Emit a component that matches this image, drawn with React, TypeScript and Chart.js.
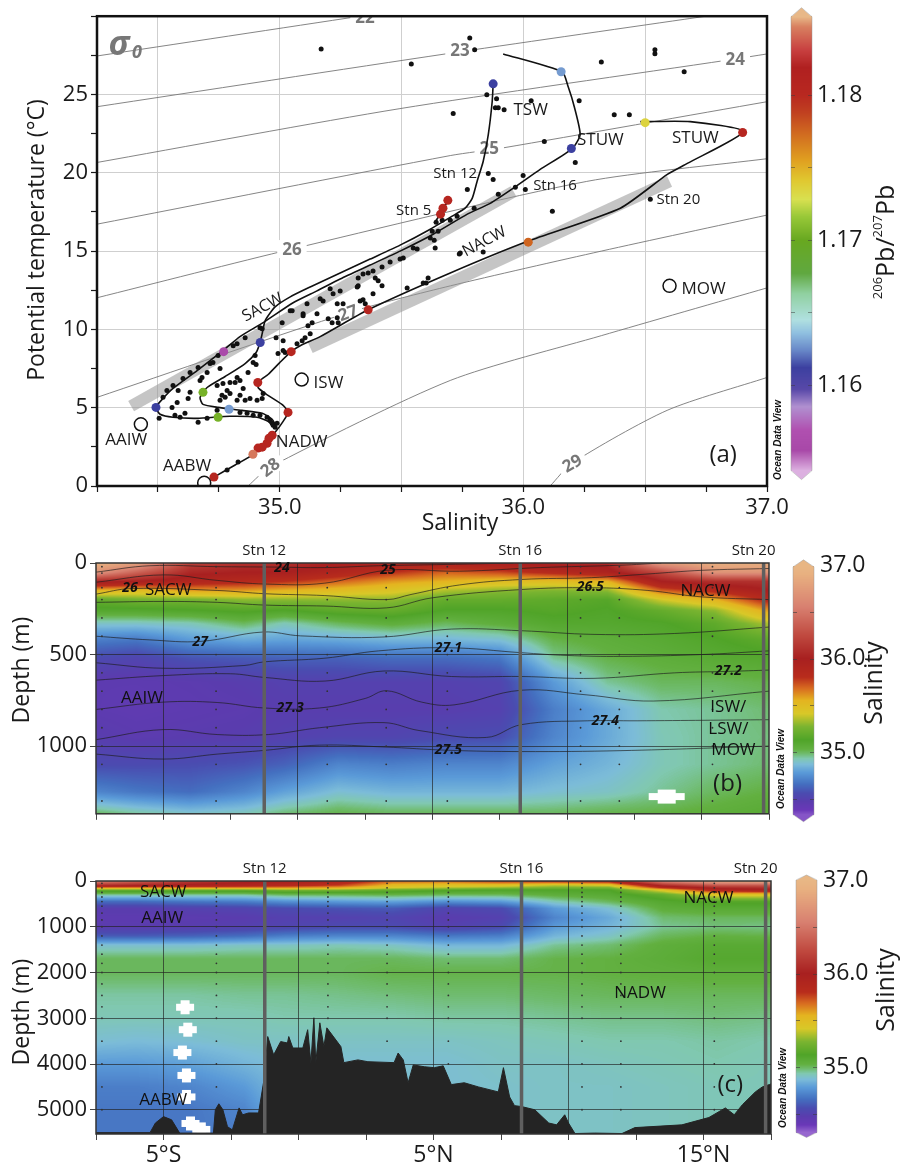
import React, { useEffect, useRef } from 'react';
import { Chart, registerables } from 'chart.js';

Chart.register(...registerables);

const FONT = '"Open Sans", "Noto Sans", "DejaVu Sans", sans-serif';
const ODV_FONT = '"Liberation Sans", "DejaVu Sans", sans-serif';
const INK = '#1a1a1a';

// ================= Panel (a): potential temperature vs salinity =================
const sigmaNames = ['22', '23', '24', '25', '26', '27', '28', '29'];
const sigma22 = [[34.25, 27.46], [35.33, 30.0]];
const sigma23 = [[34.25, 24.22], [35.68, 27.59], [36.66, 29.8], [36.75, 30.0]];
const sigma24 = [[34.25, 20.66], [35.49, 24.09], [36.84, 27.2], [37.0, 27.59]];
const sigma25 = [[34.25, 16.72], [35.7, 21.1], [35.92, 21.6], [37.0, 24.54]];
const sigma26 = [[34.25, 12.02], [35.05, 15.13], [36.26, 19.45], [37.0, 20.9]];
const sigma27 = [[34.25, 5.66], [35.28, 11.06], [35.7, 12.78], [36.32, 15.0], [37.0, 17.3]];
const sigma28 = [[34.87, 0.0], [34.96, 1.21], [35.7, 6.74], [36.32, 9.6], [37.0, 12.65]];
const sigma29 = [[36.11, 0.0], [36.2, 1.46], [36.59, 4.83], [37.0, 6.93]];
const sigmaLines = [sigma22, sigma23, sigma24, sigma25, sigma26, sigma27, sigma28, sigma29];
const sigmaLabelAt = [[35.35, 29.95], [35.74, 27.84], [36.87, 27.27], [35.86, 21.55], [35.05, 15.13], [35.28, 11.06], [34.96, 1.21], [36.2, 1.46]];
const sigmaLabelTilt = [0, 0, 0, 0, 0, -20, -38, -30];

const sacwBand = [[34.39, 5.1], [35.96, 18.8]];
const nacwBand = [[35.125, 8.84], [36.6, 19.45]];

const stn16Profile = [
  [35.917, 27.59], [36.159, 26.45], [36.184, 25.49], [36.209, 24.22], [36.233, 22.44], [36.201, 21.55],
  [36.069, 20.22], [35.958, 19.01], [35.864, 18.05], [35.77, 17.36], [35.63, 16.08], [35.494, 15.0],
  [35.371, 14.11], [35.248, 13.22], [35.153, 12.46], [35.055, 11.7], [34.932, 10.43], [34.837, 9.54],
  [34.772, 8.71], [34.661, 7.37], [34.562, 6.23], [34.521, 5.59], [34.492, 5.02], [34.509, 4.58],
  [34.562, 4.39], [34.661, 4.32], [34.796, 4.45], [34.907, 4.39], [34.952, 4.13], [34.981, 3.69],
];
const stn12Profile = [
  [35.876, 25.68], [35.872, 24.54], [35.856, 22.44], [35.835, 20.72], [35.81, 19.45], [35.79, 18.37],
  [35.761, 17.74], [35.708, 17.23], [35.618, 16.4], [35.494, 15.38], [35.371, 14.49], [35.248, 13.6],
  [35.125, 12.71], [35.043, 12.08], [34.981, 11.44], [34.94, 10.55], [34.928, 9.73], [34.919, 9.15],
  [34.903, 8.52], [34.858, 7.82], [34.776, 6.99], [34.702, 6.29], [34.673, 5.66], [34.685, 5.21],
  [34.747, 5.02], [34.845, 4.83], [34.928, 4.64], [34.969, 4.26], [34.985, 3.81],
];
const stn20Profile = [
  [36.48, 23.27], [36.685, 23.27], [36.903, 22.63], [36.673, 20.6], [36.591, 19.9], [36.398, 17.74],
  [36.02, 15.64], [35.7, 13.6], [35.363, 11.25], [35.166, 9.54], [35.084, 8.96], [35.047, 8.58],
  [35.0, 7.88], [34.952, 7.12], [34.919, 6.74], [34.911, 6.29], [34.952, 5.79], [35.014, 5.15],
  [35.034, 4.7], [35.014, 4.13], [34.981, 3.43], [34.94, 2.73], [34.887, 1.97], [34.817, 1.34], [34.73, 0.57],
];
const stn5Profile = [[35.691, 18.24], [35.659, 17.36], [35.634, 16.78]];

const blackDots = [
  [35.17, 27.9], [35.54, 26.95], [35.78, 28.6], [35.8, 27.85], [36.32, 27.08], [36.54, 27.85], [36.54, 27.6],
  [36.66, 26.45], [35.85, 24.98], [35.89, 24.73], [35.885, 24.16], [35.897, 24.16], [35.921, 24.03],
  [35.712, 23.78], [36.032, 24.6], [36.229, 24.6], [36.373, 23.71], [36.435, 23.71], [36.086, 22.0],
  [36.213, 20.66], [35.856, 19.96], [35.876, 19.58], [35.999, 19.83], [35.77, 18.94], [35.897, 18.63],
  [35.967, 19.07], [36.008, 18.94], [36.119, 17.55], [36.521, 18.31], [35.798, 17.74], [35.741, 14.88],
  [35.835, 14.94], [35.638, 15.19], [35.523, 12.65], [35.609, 13.29], [35.601, 12.97], [35.728, 17.23],
  [35.7, 16.97], [35.667, 16.97], [35.642, 16.85], [35.626, 16.27], [35.65, 16.27], [35.618, 15.83],
  [35.634, 15.7], [35.737, 14.81], [35.548, 15.19], [35.564, 15.13], [35.507, 14.56], [35.494, 14.49],
  [35.453, 14.3], [35.42, 13.99], [35.383, 13.73], [35.363, 13.6], [35.342, 13.54], [35.322, 13.29],
  [35.322, 12.78], [35.392, 13.29], [35.404, 13.1], [35.42, 12.78], [35.383, 12.27], [35.318, 12.71],
  [35.248, 12.46], [35.207, 12.59], [35.219, 12.27], [35.178, 11.82], [35.166, 11.95], [35.112, 11.63],
  [35.043, 11.19], [35.096, 11.0], [35.153, 11.0], [35.236, 11.63], [35.26, 11.63], [35.33, 11.82],
  [35.351, 11.63], [35.342, 11.89], [35.589, 12.97], [35.199, 10.68], [35.215, 10.43], [35.236, 10.74],
  [35.24, 10.43], [35.116, 10.24], [34.919, 10.11], [35.01, 10.43], [35.051, 11.19], [35.096, 10.87],
  [35.133, 10.43], [35.125, 9.73], [35.104, 9.47], [35.092, 9.28], [35.071, 9.09], [35.014, 9.28],
  [35.022, 8.52], [34.993, 8.46], [35.014, 8.65], [34.985, 9.47], [34.928, 10.04], [34.858, 9.47],
  [34.825, 9.09], [34.809, 8.96], [34.747, 8.33], [34.726, 7.88], [34.714, 7.82], [34.665, 7.57],
  [34.632, 7.25], [34.603, 6.87], [34.562, 6.42], [34.537, 6.1], [34.521, 5.66], [34.583, 6.1],
  [34.632, 5.98], [34.624, 5.59], [34.579, 5.34], [34.558, 5.02], [34.673, 6.74], [34.681, 6.93],
  [34.755, 7.5], [34.702, 7.25], [34.899, 8.33], [34.891, 7.88], [34.903, 7.76], [34.825, 6.93],
  [34.837, 6.74], [34.817, 6.61], [34.796, 6.61], [34.87, 7.25], [34.767, 6.55], [34.743, 6.42],
  [34.763, 5.79], [34.776, 5.66], [34.784, 6.1], [34.796, 5.91], [34.755, 5.47], [34.837, 5.79],
  [34.85, 6.23], [34.858, 5.47], [34.825, 5.47], [34.878, 5.59], [34.907, 5.47], [34.928, 5.59],
  [34.932, 5.91], [34.743, 4.83], [34.837, 4.7], [34.57, 4.51], [34.591, 4.39], [34.611, 4.64],
  [34.665, 4.07], [34.702, 4.32], [34.505, 4.32], [34.866, 4.64], [34.891, 4.51], [34.919, 4.51],
  [34.948, 4.39], [34.96, 4.2], [34.969, 4.0], [34.973, 3.88], [34.989, 4.0], [34.981, 3.75],
  [34.829, 1.53], [34.784, 1.02],
];

// [salinity, temperature, 206Pb/207Pb]
const pbDots = [
  [35.876, 25.68, 1.1612], [36.155, 26.45, 1.1628], [36.197, 21.55, 1.1612], [36.5, 23.2, 1.1735],
  [36.9, 22.57, 1.1805], [36.02, 15.57, 1.1775], [35.69, 18.24, 1.1805], [35.67, 17.74, 1.1805],
  [35.66, 17.36, 1.1805], [35.363, 11.25, 1.1805], [34.92, 9.16, 1.1612], [34.77, 8.58, 1.1558],
  [35.047, 8.58, 1.1805], [34.91, 6.61, 1.1805], [34.685, 5.98, 1.1705], [34.492, 5.02, 1.1612],
  [34.792, 4.9, 1.1628], [34.747, 4.39, 1.1705], [35.034, 4.7, 1.1805], [34.969, 3.24, 1.1805],
  [34.948, 2.73, 1.1805], [34.928, 2.48, 1.1805], [34.911, 2.42, 1.1805], [34.956, 3.05, 1.1805],
  [34.89, 2.03, 1.1845], [34.73, 0.57, 1.1805],
];

const massCircles = [[34.43, 3.94], [35.09, 6.8], [34.69, 0.2], [36.6, 12.78]];

// [text, salinity, temperature]
const tsLabels = [
  ['TSW', 36.03, 24.0], ['STUW', 36.316, 22.06], ['STUW', 36.706, 22.19], ['ISW', 35.2, 6.55],
  ['AAIW', 34.37, 2.92], ['NADW', 35.09, 2.8], ['AABW', 34.62, 1.27], ['MOW', 36.74, 12.6],
];
const tsStnLabels = [['Stn 12', 35.72, 19.96], ['Stn 16', 36.13, 19.2], ['Stn 5', 35.55, 17.55], ['Stn 20', 36.636, 18.3]];
const tsTiltLabels = [['NACW', 35.84, 15.6], ['SACW', 34.93, 11.4]];

const pbStops: [number, string][] = [
  [1.1541, '#dcb0e0'], [1.1555, '#a848a8'], [1.1569, '#b050b0'], [1.1585, '#b090d0'], [1.1597, '#5848a8'],
  [1.1612, '#3c40a0'], [1.1624, '#6888c8'], [1.1636, '#90c0e0'], [1.1645, '#b0e0e0'], [1.1663, '#90d0a0'],
  [1.1677, '#60a840'], [1.170, '#68a820'], [1.1716, '#98c838'], [1.1728, '#d8e050'], [1.1741, '#e0c830'],
  [1.1755, '#e0a020'], [1.1774, '#d06820'], [1.1788, '#c04020'], [1.180, '#b82820'], [1.1819, '#b02020'],
  [1.1831, '#c84040'], [1.1847, '#d88060'], [1.1854, '#e8b888'],
];

// ================= Panels (b) and (c): salinity sections =================
const salStops: [number, string][] = [
  [34.27, '#a878d8'], [34.38, '#6a38b8'], [34.47, '#5a3cae'], [34.56, '#4a4cb0'], [34.66, '#4470c0'],
  [34.78, '#5a9ad8'], [34.87, '#7cbcd8'], [34.93, '#80c8b0'], [34.98, '#70bc70'], [35.03, '#62b040'],
  [35.13, '#50a428'], [35.27, '#7ab430'], [35.41, '#d8c828'], [35.55, '#e4b420'], [35.68, '#d86c20'],
  [35.8, '#b82c1c'], [36.0, '#a82020'], [36.25, '#c04a40'], [36.55, '#d88070'], [36.9, '#e8b080'], [37.05, '#e8bb88'],
];

const gridLats = [-7.5, -6, -4, -2, -0.5, 1.5, 3.5, 5.5, 7.5, 9.5, 11.5, 13.5, 15.5, 17.5];
const stationLats = [-1.25, 8.26, 17.3];
const stationNames = ['Stn 12', 'Stn 16', 'Stn 20'];
const sampleLats = [-7.28, -3.04, 1.09, 3.28, 5.55, 10.5, 11.94, 15.4];

const depthTicksB = [0, 500, 1000];
const depthsB = [0, 50, 100, 150, 200, 260, 330, 420, 520, 650, 800, 950, 1100, 1250, 1370];
const salinityB = [
  [36.92, 36.8, 36.2, 36.1, 36.1, 36.0, 35.95, 35.95, 36.0, 36.05, 36.05, 36.75, 36.9, 36.9],
  [36.7, 36.4, 36.05, 36.0, 36.0, 35.9, 35.8, 35.7, 35.75, 35.85, 35.95, 36.25, 36.7, 36.7],
  [36.05, 36.0, 35.9, 35.85, 35.8, 35.7, 35.6, 35.55, 35.5, 35.5, 35.55, 36.0, 36.1, 36.1],
  [35.55, 35.5, 35.6, 35.6, 35.55, 35.5, 35.45, 35.35, 35.3, 35.28, 35.3, 35.7, 35.85, 36.0],
  [35.2, 35.25, 35.25, 35.3, 35.3, 35.3, 35.3, 35.2, 35.2, 35.18, 35.15, 35.4, 35.55, 35.85],
  [35.1, 35.1, 35.12, 35.15, 35.12, 35.18, 35.2, 35.12, 35.12, 35.15, 35.12, 35.2, 35.3, 35.6],
  [34.9, 34.9, 34.92, 35.0, 34.92, 35.0, 35.05, 35.0, 35.05, 35.1, 35.1, 35.12, 35.18, 35.35],
  [34.7, 34.68, 34.78, 34.82, 34.8, 34.82, 34.85, 34.85, 34.88, 35.02, 35.05, 35.08, 35.12, 35.18],
  [34.55, 34.52, 34.58, 34.6, 34.62, 34.62, 34.65, 34.65, 34.68, 34.95, 35.02, 35.05, 35.08, 35.1],
  [34.45, 34.45, 34.46, 34.48, 34.5, 34.5, 34.5, 34.5, 34.52, 34.78, 34.95, 35.0, 35.0, 35.02],
  [34.45, 34.44, 34.45, 34.46, 34.48, 34.48, 34.48, 34.48, 34.5, 34.7, 34.82, 34.93, 34.95, 34.98],
  [34.48, 34.46, 34.47, 34.48, 34.5, 34.52, 34.52, 34.55, 34.56, 34.72, 34.82, 34.92, 34.95, 34.97],
  [34.55, 34.55, 34.56, 34.58, 34.62, 34.72, 34.7, 34.72, 34.72, 34.8, 34.85, 34.92, 34.95, 34.98],
  [34.72, 34.68, 34.65, 34.72, 34.8, 34.88, 34.85, 34.85, 34.85, 34.88, 34.9, 34.95, 35.0, 35.03],
  [35.0, 34.95, 34.9, 34.92, 34.98, 35.02, 35.0, 35.0, 35.0, 35.0, 35.02, 35.03, 35.05, 35.08],
];

const sigmaB24 = [[-7.5, 50], [-5.5, 15], [-3, 20], [-1, 22], [1, 25], [3, 15], [5.5, 8], [8, 0]];
const sigmaB25 = [[-7.5, 105], [-5, 65], [-3, 95], [-1.2, 115], [1, 110], [3.3, 40], [6, 45], [9, 25], [12, 12], [13.5, 0]];
const sigmaB26 = [[-7.5, 170], [-6.2, 140], [-3, 150], [-1.2, 168], [1, 178], [3.3, 200], [4.2, 172], [6, 120], [8.3, 90], [10.9, 80], [13, 60], [15, 40], [17.5, 30]];
const sigmaB265 = [[-7.5, 215], [-5, 210], [-3, 215], [-1.2, 230], [1, 235], [3.3, 245], [5, 190], [8.3, 145], [10.9, 135], [13, 150], [15, 185], [17.5, 200]];
const sigmaB27 = [[-7.5, 400], [-5.5, 420], [-3.6, 428], [-1.3, 377], [0.1, 398], [3.2, 404], [5.7, 361], [8.3, 370], [11, 390], [14, 385], [17.5, 350]];
const sigmaB271 = [[-7.5, 545], [-5, 575], [-2, 560], [-1.25, 540], [1, 520], [3, 480], [5.6, 463], [8.3, 490], [10, 505], [12, 510], [15, 500], [17.5, 480]];
const sigmaB272 = [[-7.5, 640], [-5, 615], [-2.5, 605], [-1.25, 625], [1, 645], [3.2, 590], [5.7, 620], [8.3, 620], [11, 630], [14, 600], [16, 592], [17.5, 585]];
const sigmaB273 = [[-7.5, 800], [-5, 760], [-3, 762], [-1.25, 792], [0.8, 792], [2.5, 740], [3.3, 698], [4.6, 760], [5.8, 775], [8.3, 695], [10.7, 720], [13.2, 754], [17.5, 700]];
const sigmaB274 = [[-7.5, 965], [-5, 910], [-3, 937], [-1.1, 937], [0.8, 900], [3.2, 872], [4.5, 915], [7, 953], [8.3, 883], [10.75, 862], [12.6, 862], [17.5, 856]];
const sigmaB275 = [[-7.5, 1044], [-5, 1071], [-3, 1044], [-1.2, 1023], [0.8, 995], [3.2, 1005], [5.6, 1023], [8.3, 1030], [12, 1025], [17.5, 1000]];
const sigmaBLines = [sigmaB24, sigmaB25, sigmaB26, sigmaB265, sigmaB27, sigmaB271, sigmaB272, sigmaB273, sigmaB274, sigmaB275];
// [text, lat, depth]
const sigmaBLabels = [
  ['24', -0.59, 27], ['25', 3.35, 38], ['26', -6.24, 135], ['26.5', 10.86, 129], ['27', -3.63, 431],
  ['27.1', 5.59, 463], ['27.2', 15.99, 592], ['27.3', -0.29, 792], ['27.4', 11.42, 862], ['27.5', 5.59, 1023],
];
const massLabelsB = [['SACW', -4.82, 151], ['AAIW', -5.79, 738], ['NACW', 15.14, 156], ['ISW/', 15.99, 786], ['LSW/', 15.99, 905], ['MOW', 16.18, 1023]];
const sampleDepthsB = [20, 55, 135, 200, 300, 400, 500, 600, 700, 800, 900, 1000, 1100, 1300];
const gapsB = [[13.7, 1276]];

const depthTicksC = [0, 1000, 2000, 3000, 4000, 5000];
const depthsC = [0, 100, 150, 200, 300, 450, 600, 800, 1000, 1200, 1400, 1700, 2000, 2500, 3000, 3500, 4000, 4500, 5000, 5530];
const salinityC = [
  [36.6, 36.4, 36.15, 36.05, 36.0, 35.95, 35.7, 35.7, 35.8, 35.85, 35.9, 36.6, 36.85, 36.9],
  [36.05, 36.0, 35.95, 35.9, 35.85, 35.75, 35.5, 35.45, 35.45, 35.35, 35.4, 36.05, 36.3, 36.3],
  [35.6, 35.6, 35.6, 35.6, 35.6, 35.55, 35.4, 35.35, 35.3, 35.25, 35.25, 35.8, 36.05, 36.1],
  [35.2, 35.2, 35.2, 35.2, 35.25, 35.25, 35.2, 35.15, 35.12, 35.12, 35.12, 35.45, 35.9, 35.95],
  [34.95, 34.95, 34.95, 34.95, 35.0, 35.0, 35.02, 35.0, 35.0, 35.05, 35.08, 35.2, 35.45, 35.45],
  [34.65, 34.65, 34.68, 34.7, 34.75, 34.78, 34.8, 34.75, 34.78, 34.92, 35.0, 35.1, 35.15, 35.15],
  [34.48, 34.48, 34.5, 34.52, 34.55, 34.58, 34.6, 34.52, 34.55, 34.78, 34.88, 35.05, 35.08, 35.08],
  [34.45, 34.45, 34.46, 34.47, 34.5, 34.5, 34.52, 34.47, 34.5, 34.72, 34.82, 34.98, 35.0, 35.0],
  [34.47, 34.47, 34.48, 34.5, 34.52, 34.55, 34.55, 34.5, 34.55, 34.78, 34.85, 34.95, 34.97, 34.96],
  [34.6, 34.6, 34.62, 34.65, 34.7, 34.72, 34.72, 34.68, 34.7, 34.85, 34.9, 35.0, 35.03, 35.02],
  [34.88, 34.88, 34.88, 34.9, 34.9, 34.92, 34.9, 34.85, 34.85, 34.95, 34.98, 35.05, 35.08, 35.08],
  [35.0, 35.0, 35.0, 35.0, 35.0, 35.0, 35.0, 34.98, 34.98, 35.02, 35.03, 35.06, 35.1, 35.1],
  [35.0, 35.0, 35.0, 35.0, 35.0, 35.0, 35.02, 35.02, 35.02, 35.02, 35.03, 35.04, 35.05, 35.05],
  [34.94, 34.94, 34.94, 34.95, 34.95, 34.96, 34.97, 34.98, 34.98, 34.99, 35.0, 35.0, 35.0, 35.0],
  [34.92, 34.92, 34.92, 34.92, 34.93, 34.93, 34.93, 34.94, 34.94, 34.95, 34.96, 34.96, 34.97, 34.96],
  [34.88, 34.87, 34.88, 34.9, 34.9, 34.9, 34.9, 34.9, 34.91, 34.92, 34.93, 34.93, 34.94, 34.93],
  [34.78, 34.78, 34.8, 34.85, 34.88, 34.88, 34.88, 34.88, 34.9, 34.9, 34.91, 34.92, 34.93, 34.92],
  [34.7, 34.7, 34.72, 34.78, 34.88, 34.88, 34.88, 34.88, 34.89, 34.9, 34.9, 34.91, 34.92, 34.92],
  [34.68, 34.68, 34.68, 34.72, 34.88, 34.88, 34.88, 34.88, 34.89, 34.9, 34.9, 34.91, 34.92, 34.92],
  [34.68, 34.68, 34.68, 34.7, 34.88, 34.88, 34.88, 34.88, 34.89, 34.9, 34.9, 34.91, 34.92, 34.92],
];
const bathymetry = [
  [-7.5, 5500], [-5.5, 5500], [-5.3, 5290], [-5.0, 5150], [-4.7, 5220], [-4.4, 5510], [-3.15, 5510], [-3.08, 5000],
  [-2.95, 4870], [-2.8, 5000], [-2.63, 5370], [-2.45, 5440], [-2.2, 4960], [-2.07, 5110], [-1.85, 5070], [-1.48, 5070],
  [-1.28, 4350], [-1.14, 3400], [-0.92, 3800], [-0.66, 3510], [-0.41, 3540], [-0.36, 3400], [-0.21, 3650], [0.16, 3650],
  [0.34, 3250], [0.46, 3970], [0.57, 2990], [0.64, 3970], [0.79, 3100], [0.94, 3620], [1.05, 3210], [1.57, 3620],
  [1.68, 3970], [2.2, 3910], [2.57, 3950], [3.54, 3970], [3.69, 3760], [3.88, 3910], [4.06, 4410], [4.25, 4020],
  [4.66, 4060], [5.03, 4080], [5.36, 4040], [5.66, 4450], [6.14, 4410], [6.66, 4500], [7.4, 4610], [7.59, 4080],
  [7.82, 4720], [8.0, 4910], [8.26, 4930], [8.75, 5000], [9.27, 5290], [9.56, 5330], [9.86, 5110], [10.0, 5290],
  [10.24, 5520], [10.97, 5510], [11.98, 5520], [12.46, 5390], [14.2, 5330], [15.2, 5170], [15.81, 4960], [16.14, 5110],
  [16.44, 4890], [16.92, 4610], [17.18, 4500], [17.44, 4450], [17.6, 4410],
];
const massLabelsC = [['SACW', -5.01, 240], ['AAIW', -5.05, 808], ['AABW', -5.01, 4782], ['NACW', 15.18, 371], ['NADW', 12.65, 2445]];
const sampleDepthsC = [50, 150, 250, 350, 450, 550, 700, 850, 1000, 1200, 1400, 1600, 1800, 2000, 2250, 2500, 2750, 3000, 3500, 4000, 4500, 5000];
const gapsC = [[-4.2, 2760], [-4.1, 3250], [-4.3, 3750], [-4.15, 4250], [-4.15, 4720], [-4.0, 5300], [-3.6, 5430]];

// ================= helpers =================
function hexRgb(h: string): number[] {
  const n = parseInt(h.slice(1), 16);
  return [(n >> 16) & 255, (n >> 8) & 255, n & 255];
}
function colorFor(stops: [number, string][], v: number): number[] {
  if (v <= stops[0][0]) return hexRgb(stops[0][1]);
  for (let i = 1; i < stops.length; i++) {
    if (v <= stops[i][0]) {
      const f = (v - stops[i - 1][0]) / (stops[i][0] - stops[i - 1][0]);
      const a = hexRgb(stops[i - 1][1]);
      const b = hexRgb(stops[i][1]);
      return [a[0] + (b[0] - a[0]) * f, a[1] + (b[1] - a[1]) * f, a[2] + (b[2] - a[2]) * f];
    }
  }
  return hexRgb(stops[stops.length - 1][1]);
}
const rgbStr = (c: number[]) => `rgb(${c.map((x) => Math.round(x)).join(',')})`;
const isWhole = (v: number) => Math.abs(v - Math.round(v)) < 1e-6;
const toXY = (pts: number[][]) => pts.map(([x, y]) => ({ x, y }));

function drawText(ctx: CanvasRenderingContext2D, s: string, x: number, y: number, font: string, o: any = {}) {
  ctx.save();
  ctx.translate(x, y);
  if (o.rot) ctx.rotate((o.rot * Math.PI) / 180);
  ctx.font = font;
  ctx.fillStyle = o.color || INK;
  ctx.textAlign = o.align || 'center';
  ctx.textBaseline = o.base || 'middle';
  ctx.fillText(s, 0, 0);
  ctx.restore();
}

function drawColorbar(ctx: CanvasRenderingContext2D, x0: number, x1: number, yOf: (v: number) => number,
  vHi: number, vLo: number, tip: number, stops: [number, string][]) {
  const yHi = yOf(vHi), yLo = yOf(vLo);
  for (let y = Math.floor(yHi); y < Math.ceil(yLo); y++) {
    const v = vHi - ((y + 0.5 - yHi) / (yLo - yHi)) * (vHi - vLo);
    ctx.fillStyle = rgbStr(colorFor(stops, v));
    ctx.fillRect(x0, y, x1 - x0, 1);
  }
  const xm = (x0 + x1) / 2;
  ctx.fillStyle = rgbStr(colorFor(stops, vHi));
  ctx.beginPath(); ctx.moveTo(x0, yHi + 0.5); ctx.lineTo(xm, yHi - tip); ctx.lineTo(x1, yHi + 0.5); ctx.closePath(); ctx.fill();
  ctx.fillStyle = rgbStr(colorFor(stops, vLo));
  ctx.beginPath(); ctx.moveTo(x0, yLo - 0.5); ctx.lineTo(xm, yLo + tip); ctx.lineTo(x1, yLo - 0.5); ctx.closePath(); ctx.fill();
  ctx.strokeStyle = 'rgba(150,150,150,0.55)';
  ctx.lineWidth = 0.8;
  ctx.beginPath();
  ctx.moveTo(x0, yHi); ctx.lineTo(xm, yHi - tip); ctx.lineTo(x1, yHi); ctx.lineTo(x1, yLo);
  ctx.lineTo(xm, yLo + tip); ctx.lineTo(x0, yLo); ctx.closePath(); ctx.stroke();
}

function odvMark(ctx: CanvasRenderingContext2D, x: number, y: number) {
  drawText(ctx, 'Ocean Data View', x, y, `italic bold 10px ${ODV_FONT}`, { rot: -90, color: '#111' });
}

function paintField(chart: any, lats: number[], depths: number[], grid: number[][], stops: [number, string][]) {
  const ca = chart.chartArea;
  const L = Math.round(ca.left), T = Math.round(ca.top);
  const W = Math.round(ca.right) - L, H = Math.round(ca.bottom) - T;
  const xs = chart.scales.x, ys = chart.scales.y;
  const off = document.createElement('canvas');
  off.width = W; off.height = H;
  const octx = off.getContext('2d')!;
  const img = octx.createImageData(W, H);
  const locate = (arr: number[], v: number): [number, number] => {
    const n = arr.length;
    if (v <= arr[0]) return [0, 0];
    if (v >= arr[n - 1]) return [n - 2, 1];
    let k = 0;
    while (arr[k + 1] < v) k++;
    return [k, (v - arr[k]) / (arr[k + 1] - arr[k])];
  };
  const cols: [number, number][] = [];
  for (let i = 0; i < W; i++) cols.push(locate(lats, xs.getValueForPixel(L + i + 0.5)));
  const rows: [number, number][] = [];
  for (let j = 0; j < H; j++) rows.push(locate(depths, ys.getValueForPixel(T + j + 0.5)));
  const vmin = stops[0][0], vmax = stops[stops.length - 1][0];
  const N = 800;
  const lut: number[][] = [];
  for (let k = 0; k <= N; k++) lut.push(colorFor(stops, vmin + ((vmax - vmin) * k) / N));
  for (let j = 0; j < H; j++) {
    const [r, fr] = rows[j];
    const r0 = grid[r], r1 = grid[r + 1];
    for (let i = 0; i < W; i++) {
      const [c, fc] = cols[i];
      const a = r0[c] * (1 - fc) + r0[c + 1] * fc;
      const b = r1[c] * (1 - fc) + r1[c + 1] * fc;
      const v = a * (1 - fr) + b * fr;
      let k = Math.round(((v - vmin) / (vmax - vmin)) * N);
      if (k < 0) k = 0; if (k > N) k = N;
      const col = lut[k];
      const p = (j * W + i) * 4;
      img.data[p] = col[0]; img.data[p + 1] = col[1]; img.data[p + 2] = col[2]; img.data[p + 3] = 255;
    }
  }
  octx.putImageData(img, 0, 0);
  chart.ctx.drawImage(off, L, T);
}

function paintGaps(chart: any, gaps: number[][], big: boolean) {
  const ctx = chart.ctx, xs = chart.scales.x, ys = chart.scales.y, ca = chart.chartArea;
  ctx.save();
  ctx.beginPath();
  ctx.rect(ca.left, ca.top, ca.right - ca.left, ca.bottom - ca.top);
  ctx.clip();
  ctx.fillStyle = '#fff';
  gaps.forEach(([lat, d]) => {
    const x = xs.getPixelForValue(lat), y = ys.getPixelForValue(d);
    const w = big ? 36 : 18, h = 7;
    ctx.fillRect(x - w / 2, y - h / 2, w, h);
    ctx.fillRect(x - w / 4, y - h, w / 2, h * 2);
  });
  ctx.restore();
}

// ================= Panel (a) =================
function buildTS(canvas: HTMLCanvasElement) {
  const isoSets = sigmaLines.map((pts, i) => ({
    data: toXY(pts), borderColor: '#777', borderWidth: 0.9, pointRadius: 0, tension: 0.25,
    showLine: true, fill: false, order: 20, isoIndex: i,
  }));
  const bandSets = [sacwBand, nacwBand].map((pts) => ({
    data: toXY(pts), borderColor: 'rgba(150,150,150,0.55)', borderWidth: 12, borderCapStyle: 'butt',
    pointRadius: 0, showLine: true, fill: false, order: 15,
  }));
  const profSets = [stn16Profile, stn12Profile, stn20Profile, stn5Profile].map((pts) => ({
    data: toXY(pts), borderColor: '#111', borderWidth: 1.6, pointRadius: 0, tension: 0.2,
    showLine: true, fill: false, order: 10,
  }));
  const dotSet = {
    data: toXY(blackDots), showLine: false, pointRadius: 2.5, pointBackgroundColor: '#111',
    pointBorderWidth: 0, order: 8,
  };
  const pbSet = {
    data: pbDots.map(([x, y]) => ({ x, y })), showLine: false, pointRadius: 4.5,
    pointBackgroundColor: pbDots.map((d) => rgbStr(colorFor(pbStops, d[2]))), pointBorderWidth: 0, order: 5,
  };
  const circleSet = {
    data: toXY(massCircles), showLine: false, pointRadius: 6.5, pointBackgroundColor: '#fff',
    pointBorderColor: '#111', pointBorderWidth: 1.5, order: 4,
  };

  const plugin = {
    id: 'tsDecor',
    afterDatasetDraw(chart: any, args: any) {
      const ds = chart.data.datasets[args.index];
      if (ds.isoIndex === undefined) return;
      const i = ds.isoIndex;
      const ctx = chart.ctx, ca = chart.chartArea;
      const x = chart.scales.x.getPixelForValue(sigmaLabelAt[i][0]);
      const y = chart.scales.y.getPixelForValue(sigmaLabelAt[i][1]);
      ctx.save();
      ctx.beginPath(); ctx.rect(ca.left, ca.top, ca.right - ca.left, ca.bottom - ca.top); ctx.clip();
      ctx.translate(x, y);
      ctx.rotate((sigmaLabelTilt[i] * Math.PI) / 180);
      ctx.font = `bold 17px ${FONT}`;
      const w = ctx.measureText(sigmaNames[i]).width;
      ctx.fillStyle = '#fff';
      ctx.fillRect(-w / 2 - 5, -9, w + 10, 18);
      ctx.fillStyle = '#777';
      ctx.textAlign = 'center'; ctx.textBaseline = 'middle';
      ctx.fillText(sigmaNames[i], 0, 1);
      ctx.restore();
    },
    afterDraw(chart: any) {
      const ctx = chart.ctx, ca = chart.chartArea, xs = chart.scales.x, ys = chart.scales.y;
      ctx.save();
      ctx.strokeStyle = '#111'; ctx.lineWidth = 2.5;
      ctx.strokeRect(ca.left, ca.top, ca.right - ca.left, ca.bottom - ca.top);
      ctx.restore();
      tsLabels.forEach(([t, s, v]: any) => drawText(ctx, t, xs.getPixelForValue(s), ys.getPixelForValue(v), `17px ${FONT}`));
      tsStnLabels.forEach(([t, s, v]: any) => drawText(ctx, t, xs.getPixelForValue(s), ys.getPixelForValue(v), `15px ${FONT}`));
      tsTiltLabels.forEach(([t, s, v]: any) => drawText(ctx, t, xs.getPixelForValue(s), ys.getPixelForValue(v), `16px ${FONT}`, { rot: -28 }));
      const sx = xs.getPixelForValue(34.365), sy = ys.getPixelForValue(28.03);
      drawText(ctx, 'σ', sx - 6, sy - 2, `italic bold 34px ${FONT}`, { color: '#777' });
      drawText(ctx, '0', sx + 12, sy + 6, `italic bold 18px ${FONT}`, { color: '#777' });
      drawText(ctx, '(a)', xs.getPixelForValue(36.82), ys.getPixelForValue(1.97), `24px ${FONT}`);
      odvMark(ctx, 778, 440);
      drawText(ctx, 'Potential temperature (°C)', 37, 240, `23px ${FONT}`, { rot: -90 });
      drawText(ctx, 'Salinity', 460, 523, `23px ${FONT}`);
      const yOf = (v: number) => 95 + (1.18 - v) * 14500;
      drawColorbar(ctx, 791, 812, yOf, 1.1854, 1.1541, 9, pbStops);
      ctx.strokeStyle = 'rgba(60,60,60,0.5)'; ctx.lineWidth = 1;
      [1.16, 1.165, 1.17, 1.175, 1.18].forEach((v) => {
        const y = Math.round(yOf(v)) + 0.5;
        ctx.beginPath(); ctx.moveTo(791, y); ctx.lineTo(795, y); ctx.moveTo(808, y); ctx.lineTo(812, y); ctx.stroke();
      });
      [['1.18', 1.18], ['1.17', 1.17], ['1.16', 1.16]].forEach(([t, v]: any) =>
        drawText(ctx, t, 817, yOf(v), `23px ${FONT}`, { align: 'left' }));
      ctx.save();
      ctx.translate(886, 242);
      ctx.rotate(-Math.PI / 2);
      ctx.fillStyle = INK; ctx.textBaseline = 'middle'; ctx.textAlign = 'left';
      const parts: [string, boolean][] = [['206', true], ['Pb/', false], ['207', true], ['Pb', false]];
      let total = 0;
      parts.forEach(([t, sup]) => { ctx.font = sup ? `13px ${FONT}` : `25px ${FONT}`; total += ctx.measureText(t).width; });
      let cx = -total / 2;
      parts.forEach(([t, sup]) => {
        ctx.font = sup ? `13px ${FONT}` : `25px ${FONT}`;
        ctx.fillText(t, cx, sup ? -8 : 1);
        cx += ctx.measureText(t).width;
      });
      ctx.restore();
    },
  };

  return new Chart(canvas, {
    type: 'line',
    data: { datasets: [...isoSets, ...bandSets, ...profSets, dotSet, pbSet, circleSet] as any },
    options: {
      responsive: false, animation: false, devicePixelRatio: 1,
      layout: { autoPadding: false, padding: { left: 0, top: 14, right: 133, bottom: 0 } },
      plugins: { legend: { display: false }, tooltip: { enabled: false } },
      scales: {
        x: {
          type: 'linear', min: 34.25, max: 37,
          afterFit: (s: any) => { s.height = 54; },
          ticks: {
            stepSize: 0.25, autoSkip: false, maxRotation: 0, padding: 3, color: INK,
            font: { size: 22, family: FONT },
            callback: (v: any) => (isWhole(v) && v >= 35 ? Math.round(v).toFixed(1) : ''),
          },
          grid: {
            color: (c: any) => {
              const v = c.tick.value;
              return Math.abs(v * 2 - Math.round(v * 2)) < 1e-6 && v > 34.3 && v < 36.9 ? '#cfcfcf' : 'transparent';
            },
            lineWidth: 1, drawTicks: true, tickLength: 6, tickColor: INK, tickWidth: 1.2,
          },
          border: { display: false },
        },
        y: {
          type: 'linear', min: 0, max: 30,
          afterFit: (s: any) => { s.width = 97; },
          ticks: {
            stepSize: 2.5, autoSkip: false, padding: 3, color: INK, font: { size: 22, family: FONT },
            callback: (v: any) => (isWhole(v / 5) && v < 30 ? String(v) : ''),
          },
          grid: {
            color: (c: any) => {
              const v = c.tick.value;
              return isWhole(v / 5) && v > 0 && v < 30 ? '#cfcfcf' : 'transparent';
            },
            lineWidth: 1, drawTicks: true, tickLength: 6, tickColor: INK, tickWidth: 1.2,
          },
          border: { display: false },
        },
      },
    },
    plugins: [plugin],
  } as any);
}

// ================= Panels (b), (c) =================
function buildSection(canvas: HTMLCanvasElement, cfg: any) {
  const datasets: any[] = [];
  (cfg.contours || []).forEach((pts: number[][]) => datasets.push({
    data: toXY(pts), borderColor: 'rgba(30,30,30,0.75)', borderWidth: 0.9, pointRadius: 0, tension: 0.4,
    showLine: true, fill: false, order: 6,
  }));
  const samples: any[] = [];
  sampleLats.forEach((lat) => cfg.sampleDepths.forEach((d: number) => samples.push({ x: lat, y: d })));
  datasets.push({ data: samples, showLine: false, pointRadius: 0.9, pointBackgroundColor: '#333', pointBorderWidth: 0, order: 5 });
  if (cfg.bathy) {
    datasets.push({
      data: toXY(cfg.bathy), borderColor: '#242424', backgroundColor: '#242424', borderWidth: 1,
      pointRadius: 0, tension: 0, showLine: true, fill: { value: cfg.depthMax }, order: 3,
    });
  }
  stationLats.forEach((lat) => datasets.push({
    data: [{ x: lat, y: 0 }, { x: lat, y: cfg.depthMax }], borderColor: '#5f5f5f', borderWidth: 3.5,
    pointRadius: 0, showLine: true, fill: false, order: 1,
  }));

  const plugin = {
    id: 'sectionDecor',
    beforeDraw(chart: any) {
      paintField(chart, gridLats, cfg.depths, cfg.grid, salStops);
      paintGaps(chart, cfg.gaps, cfg.bigGaps);
    },
    afterDraw(chart: any) {
      const ctx = chart.ctx, ca = chart.chartArea, xs = chart.scales.x, ys = chart.scales.y;
      ctx.save();
      ctx.strokeStyle = '#333'; ctx.lineWidth = 1.5;
      ctx.strokeRect(ca.left, ca.top, ca.right - ca.left, ca.bottom - ca.top);
      ctx.restore();
      stationNames.forEach((n, i) => {
        const x = xs.getPixelForValue(stationLats[i]) - (i === 2 ? 10 : 0);
        drawText(ctx, n, x, ca.top - 12, `15px ${FONT}`);
      });
      (cfg.contourLabels || []).forEach(([t, lat, d]: any) =>
        drawText(ctx, t, xs.getPixelForValue(lat), ys.getPixelForValue(d), `italic bold 14px ${FONT}`, { color: '#111' }));
      cfg.massLabels.forEach(([t, lat, d]: any) =>
        drawText(ctx, t, xs.getPixelForValue(lat), ys.getPixelForValue(d), `17px ${FONT}`, { color: '#111' }));
      drawText(ctx, cfg.tag, xs.getPixelForValue(cfg.tagAt[0]), ys.getPixelForValue(cfg.tagAt[1]), `24px ${FONT}`);
      odvMark(ctx, cfg.odv[0], cfg.odv[1]);
      drawText(ctx, 'Depth (m)', 22, cfg.titleY, `23px ${FONT}`, { rot: -90 });
      const yOf = (v: number) => cfg.cb.y37 + (37 - v) * 93.5;
      drawColorbar(ctx, cfg.cb.x0, cfg.cb.x1, yOf, cfg.cb.vHi, cfg.cb.vLo, cfg.cb.tip, salStops);
      ctx.strokeStyle = 'rgba(60,60,60,0.6)'; ctx.lineWidth = 1;
      [34.5, 35.0, 35.5, 36.0, 36.5].forEach((v) => {
        const y = Math.round(yOf(v)) + 0.5;
        ctx.beginPath(); ctx.moveTo(cfg.cb.x0, y); ctx.lineTo(cfg.cb.x0 + 4, y);
        ctx.moveTo(cfg.cb.x1 - 4, y); ctx.lineTo(cfg.cb.x1, y); ctx.stroke();
      });
      [['37.0', 37], ['36.0', 36], ['35.0', 35]].forEach(([t, v]: any) =>
        drawText(ctx, t, cfg.cb.x1 + 6, yOf(v), `23px ${FONT}`, { align: 'left' }));
      drawText(ctx, 'Salinity', cfg.cb.titleX, cfg.cb.titleY, `25px ${FONT}`, { rot: -90 });
    },
  };

  return new Chart(canvas, {
    type: 'line',
    data: { datasets },
    options: {
      responsive: false, animation: false, devicePixelRatio: 1,
      layout: { autoPadding: false, padding: { left: 0, top: cfg.padTop, right: cfg.padRight, bottom: 0 } },
      plugins: { legend: { display: false }, tooltip: { enabled: false } },
      scales: {
        x: {
          type: 'linear', min: -7.5, max: 17.5,
          afterFit: (s: any) => { s.height = cfg.xAxisH; },
          ticks: {
            stepSize: 2.5, autoSkip: false, maxRotation: 0, padding: 2, color: INK,
            font: { size: 23, family: FONT },
            callback: (v: any) => (!cfg.xLabels ? '' : v === -5 ? '5°S' : v === 5 ? '5°N' : v === 15 ? '15°N' : ''),
          },
          grid: {
            color: (c: any) => {
              const v = c.tick.value;
              return isWhole(v / 5) ? 'rgba(35,35,35,0.75)' : 'transparent';
            },
            lineWidth: 0.9, drawTicks: true, tickLength: 6, tickColor: '#444', tickWidth: 1,
          },
          border: { display: false },
        },
        y: {
          type: 'linear', min: 0, max: cfg.depthMax, reverse: true,
          afterFit: (s: any) => { s.width = 96; },
          afterBuildTicks: (s: any) => { s.ticks = cfg.yTicks.map((v: number) => ({ value: v })); },
          ticks: {
            autoSkip: false, padding: 3, color: INK,
            font: { size: 22, family: FONT },
            callback: (v: any) => String(v),
          },
          grid: {
            color: (c: any) => (c.tick.value > 0 ? 'rgba(35,35,35,0.75)' : 'transparent'),
            lineWidth: 0.9, drawTicks: true, tickLength: 6, tickColor: '#444', tickWidth: 1,
          },
          border: { display: false },
        },
      },
    },
    plugins: [plugin],
  } as any);
}

export default function App() {
  const refA = useRef<HTMLCanvasElement>(null);
  const refB = useRef<HTMLCanvasElement>(null);
  const refC = useRef<HTMLCanvasElement>(null);

  useEffect(() => {
    const charts: Chart[] = [];
    charts.push(buildTS(refA.current!));
    charts.push(buildSection(refB.current!, {
      depthMax: 1370, padTop: 23, padRight: 131, xAxisH: 13, yTicks: depthTicksB, xLabels: false,
      depths: depthsB, grid: salinityB, contours: sigmaBLines, contourLabels: sigmaBLabels,
      massLabels: massLabelsB, sampleDepths: sampleDepthsB, gaps: gapsB, bigGaps: true,
      tag: '(b)', tagAt: [15.96, 1206], odv: [781, 229], titleY: 130,
      cb: { x0: 793, x1: 814, y37: 25, vHi: 36.98, vLo: 34.33, tip: 7, titleX: 875, titleY: 143 },
    }));
    charts.push(buildSection(refC.current!, {
      depthMax: 5530, padTop: 51, padRight: 129, xAxisH: 36, yTicks: depthTicksC, xLabels: true,
      depths: depthsC, grid: salinityC, bathy: bathymetry,
      massLabels: massLabelsC, sampleDepths: sampleDepthsC, gaps: gapsC, bigGaps: false,
      tag: '(c)', tagAt: [15.99, 4454], odv: [783, 258], titleY: 182,
      cb: { x0: 796, x1: 817, y37: 50, vHi: 37.0, vLo: 34.3, tip: 5, titleX: 887, titleY: 160 },
    }));
    return () => charts.forEach((c) => c.destroy());
  }, []);

  const cs = (top: number, h: number): React.CSSProperties => ({ position: 'absolute', left: 0, top, width: 900, height: h });
  return (
    <div style={{ position: 'absolute', left: 0, top: 0, width: 900, height: 1170, background: '#fff' }}>
      <canvas ref={refA} width={900} height={540} style={cs(0, 540)} />
      <canvas ref={refB} width={900} height={290} style={cs(540, 290)} />
      <canvas ref={refC} width={900} height={340} style={cs(830, 340)} />
    </div>
  );
}
